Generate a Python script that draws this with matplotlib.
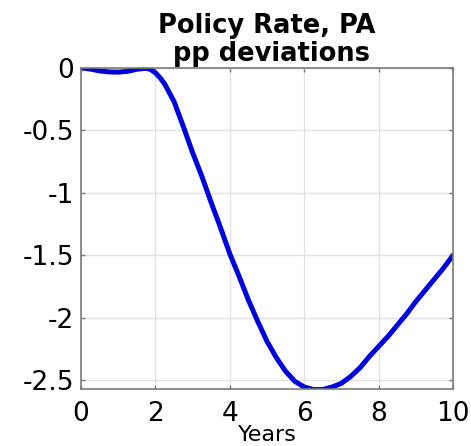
import matplotlib
matplotlib.use("Agg")
import matplotlib.pyplot as plt
from matplotlib.ticker import FormatStrFormatter

plt.rcParams['font.family'] = ['DejaVu Sans']
plt.rcParams['axes.unicode_minus'] = False

# policy rate response, pp deviations
years = [0.0, 0.25, 0.5, 0.75, 1.0, 1.25, 1.5, 1.75, 1.875, 2.0, 2.125, 2.25,
         2.5, 2.75, 3.0, 3.25, 3.5, 3.75, 4.0, 4.25, 4.5, 4.75,
         5.0, 5.25, 5.5, 5.75, 6.0, 6.25, 6.5, 6.75, 7.0, 7.25,
         7.5, 7.75, 8.0, 8.25, 8.5, 8.75, 9.0, 9.25, 9.5, 9.75, 10.0]
rate = [0.0, -0.01, -0.025, -0.033, -0.035, -0.028, -0.012, -0.004, -0.014, -0.04, -0.08, -0.13,
        -0.27, -0.47, -0.68, -0.87, -1.08, -1.28, -1.49, -1.67, -1.86, -2.03,
        -2.19, -2.32, -2.43, -2.51, -2.555, -2.575, -2.575, -2.555, -2.525, -2.47,
        -2.40, -2.31, -2.23, -2.15, -2.06, -1.97, -1.87, -1.78, -1.69, -1.60, -1.50]

xticks = [0, 2, 4, 6, 8, 10]
yticks = [0, -0.5, -1, -1.5, -2, -2.5]

fig = plt.figure(figsize=(4.71, 4.46), dpi=100)
ax = fig.add_axes([0.172, 0.128, 0.79, 0.72])

ax.plot(years, rate, color='#0000dd', linewidth=3.6,
        solid_capstyle='round', solid_joinstyle='round')

ax.set_xlim(0, 10)
ax.set_ylim(-2.57, 0)
ax.set_xticks(xticks)
ax.set_yticks(yticks)
ax.yaxis.set_major_formatter(FormatStrFormatter('%g'))
ax.grid(True, color='#e2e2e2', linewidth=1)
ax.set_axisbelow(True)
for s in ax.spines.values():
    s.set_color('#7a7a7a')
    s.set_linewidth(1.2)
ax.tick_params(direction='in', length=3, width=1, color='#7a7a7a',
               top=True, right=True, labelsize=19)
ax.tick_params(axis='x', pad=9)
ax.tick_params(axis='y', pad=5)

ax.set_title('Policy Rate, PA\n pp deviations', fontsize=18.5, fontweight='bold',
             linespacing=1.08, pad=5)
ax.set_xlabel('Years', fontsize=16, labelpad=-2)

fig.savefig('out.png', dpi=100)
